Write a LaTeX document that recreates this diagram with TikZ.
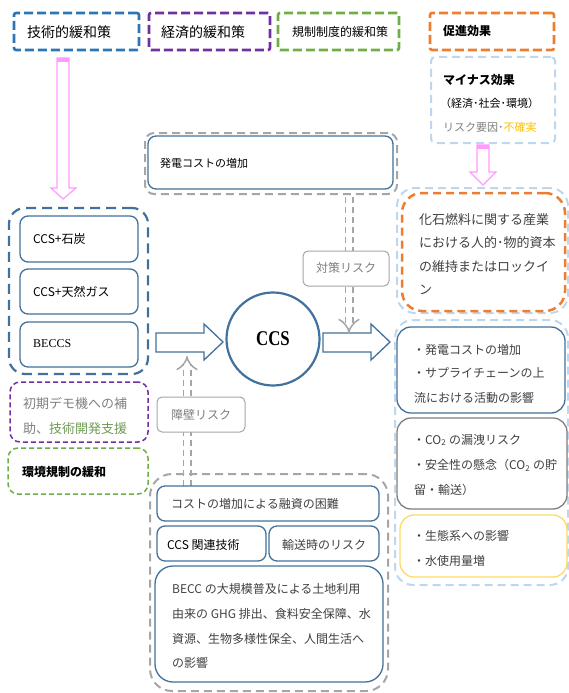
\documentclass[tikz,border=0pt]{standalone}
\usepackage{fontspec}
\newfontfamily\jp{Noto Sans CJK JP}
\newfontfamily\serifb{Liberation Serif}
\usetikzlibrary{fit,arrows.meta}
\definecolor{cblue}{HTML}{2E75B6}
\definecolor{cdblue}{HTML}{41719C}
\definecolor{cpurple}{HTML}{7030A0}
\definecolor{cgreen}{HTML}{70AD47}
\definecolor{corange}{HTML}{ED7D31}
\definecolor{clblue}{HTML}{BDD7EE}
\definecolor{cgray}{HTML}{A6A6A6}
\definecolor{cdgray}{HTML}{7F7F7F}
\definecolor{cyellow}{HTML}{FFD966}
\definecolor{cyeltext}{HTML}{FFC000}
\definecolor{cpink}{HTML}{FF9BFF}
\definecolor{ctext}{HTML}{404040}
\definecolor{cgtext}{HTML}{7F7F7F}
\definecolor{cgreentext}{HTML}{6E9A55}
\tikzset{
  topbox/.style={draw=#1, inner sep=0pt, line width=2.6pt, dash pattern=on 9pt off 4pt, rounded corners=2pt},
  grpbox/.style={draw=#1, inner sep=0pt, line width=2pt, dash pattern=on 8pt off 5pt, rounded corners=16pt},
  thinbox/.style={draw=#1, inner sep=0pt, line width=1.5pt, dash pattern=on 5pt off 3pt, rounded corners=10pt},
  solidbox/.style={draw=#1, fill=white, inner sep=0pt, line width=1.3pt, rounded corners=8pt},
  riskbox/.style={draw=cgray, fill=white, inner sep=0pt, line width=1pt, rounded corners=5pt},
  lbl/.style={anchor=west, inner sep=0pt, text=ctext, font=\jp\fontsize{12}{12}\selectfont},
  blk/.style={anchor=west, inner sep=0pt, text=black, font=\jp\fontsize{12}{12}\selectfont},
  dblarrow/.style={draw=cgray, line width=1.5pt, double=white, double distance=6pt, dash pattern=on 6pt off 4pt, -{Implies}},
  blockarrow/.style={draw=cdblue, fill=white, line width=1.3pt, line join=miter},
  pinkarrow/.style={draw=cpink, fill=white, line width=1.2pt},
}
\begin{document}
\begin{tikzpicture}[x=1pt,y=-1pt]
\useasboundingbox (0,0) rectangle (569,693);

% ---------- top row ----------
\node[topbox=cblue, fit={(14,13) (139,50)}] (tech) {};
\node[topbox=cpurple, fit={(149,13) (270,50)}] (econ) {};
\node[topbox=cgreen, fit={(278,13) (399,50)}] (reg) {};
\node[topbox=corange, fit={(430,13) (554,50)}] (promo) {};
\node[grpbox=clblue, rounded corners=4pt, fit={(431,57) (555,143)}] (minus) {};

\node[blk, font=\jp\fontsize{14}{14}\selectfont] (t1) at (27,32) {技術的緩和策};
\node[blk, font=\jp\fontsize{14}{14}\selectfont] (t2) at (161,32) {経済的緩和策};
\node[blk, font=\jp\fontsize{12}{12}\selectfont] (t3) at (292,32) {規制制度的緩和策};
\node[blk, font=\jp\bfseries\fontsize{12}{12}\selectfont] (t4) at (443,31) {促進効果};
\node[blk, font=\jp\bfseries\fontsize{12}{12}\selectfont] (t5) at (443,80) {マイナス効果};
\node[blk, font=\jp\fontsize{11}{11}\selectfont] (t6) at (440,103) {（経済･社会･環境）};
\node[blk, font=\jp\fontsize{11}{11}\selectfont] (t7) at (443,127) {\textcolor{cgtext}{リスク要因･}\textcolor{cyeltext}{不確実}};

% pink arrows
\draw[pinkarrow] (57,58) -- (69,58) -- (69,188) -- (76,188) -- (63,199) -- (51,188) -- (57,188) -- cycle;
\fill[cpink] (57,58) rectangle (69,62);
\draw[pinkarrow] (477,145) -- (489,145) -- (489,172) -- (496,172) -- (483,185) -- (470,172) -- (477,172) -- cycle;
\fill[cpink] (477,145) rectangle (489,149);

% ---------- left column ----------
\node[grpbox=cdblue, line width=2.2pt, dash pattern=on 10pt off 6pt, fit={(9,208) (148,374)}] (techgrp) {};
\node[solidbox=cdblue, fit={(20,216) (138,262)}] (coal) {};
\node[solidbox=cdblue, fit={(20,269) (138,314)}] (gas) {};
\node[solidbox=cdblue, fit={(20,322) (138,367)}] (beccs) {};
\node[blk] (l1) at (33,239) {CCS+石炭};
\node[blk] (l2) at (33,292) {CCS+天然ガス};
\node[blk, font=\serifb\fontsize{12}{12}\selectfont] (l3) at (33,344) {BECCS};

\node[thinbox=cpurple, fit={(10,382) (148,442)}] (subsidy) {};
\node[lbl, text=cgtext, font=\jp\fontsize{13}{13}\selectfont] (l4) at (23,404) {初期デモ機への補};
\node[lbl, font=\jp\fontsize{13}{13}\selectfont] (l5) at (23,429) {\textcolor{cgtext}{助、}\textcolor{cgreentext}{技術開発支援}};
\node[thinbox=cgreen, fit={(8,448) (148,494)}] (envreg) {};
\node[blk, font=\jp\bfseries\fontsize{12}{12}\selectfont] (l6) at (22,472) {環境規制の緩和};

% ---------- center ----------
\node[grpbox=cgray, rounded corners=9pt, fit={(145,133) (397,194)}] (costgrp) {};
\node[solidbox=cdblue, fit={(148,136) (393,189)}] (cost) {};
\node[blk, font=\jp\fontsize{11}{11}\selectfont] (c1) at (160,163) {発電コストの増加};

\node[circle, draw=cdblue, line width=2.2pt, minimum size=93pt, inner sep=0pt] (ccs) at (273,339)
  {\scalebox{0.8}[1]{\serifb\bfseries\fontsize{21}{21}\selectfont CCS}};

\draw[blockarrow] (156,333) -- (204,333) -- (204,324) -- (223,342) -- (204,360) -- (204,352) -- (156,352) -- cycle;
\draw[blockarrow] (323,333) -- (371,333) -- (371,324) -- (390,342) -- (371,360) -- (371,352) -- (323,352) -- cycle;

\coordinate (dnstart) at (349,197);
\coordinate (dnend) at (349,333);
\draw[dblarrow] (dnstart) -- (dnend);
\coordinate (upstart) at (187,486);
\coordinate (upend) at (187,356);
\draw[dblarrow] (upstart) -- (upend);

\node[riskbox, fit={(303,251) (389,286)}] (taisaku) {};
\node[lbl, anchor=center, text=cgtext] (c2) at (346,268) {対策リスク};
\node[riskbox, fit={(157,397) (245,432)}] (shoheki) {};
\node[lbl, anchor=center, text=cgtext] (c3) at (201,415) {障壁リスク};

% ---------- bottom group ----------
\node[grpbox=cgray, rounded corners=22pt, fit={(150,474) (388,691)}] (botgrp) {};
\node[solidbox=cdblue, fit={(157,486) (379,521)}] (fin) {};
\node[solidbox=cdblue, fit={(157,526) (266,561)}] (ccstech) {};
\node[solidbox=cdblue, fit={(269,526) (379,561)}] (trans) {};
\node[solidbox=cdblue, rounded corners=18pt, fit={(155,566) (383,682)}] (becc) {};
\node[lbl] (b1) at (171,504) {コストの増加による融資の困難};
\node[blk] (b2) at (167,545) {CCS 関連技術};
\node[lbl] (b3) at (282,545) {輸送時のリスク};
\node[lbl] (b4) at (172,589) {BECC の大規模普及による土地利用};
\node[lbl] (b5) at (172,614) {由来の GHG 排出、食料安全保障、水};
\node[lbl] (b6) at (172,639) {資源、生物多様性保全、人間生活へ};
\node[lbl] (b7) at (172,663) {の影響};

% ---------- right column ----------
\node[grpbox=clblue, rounded corners=18pt, fit={(397,188) (568,313)}] (rgrp1) {};
\node[grpbox=corange, line width=2.5pt, rounded corners=20pt, fit={(402,193) (565,311)}] (lockin) {};
\node[lbl, font=\jp\fontsize{13}{13}\selectfont] (r1) at (419,220) {化石燃料に関する産業};
\node[lbl, font=\jp\fontsize{13}{13}\selectfont] (r2) at (419,243) {における人的･物的資本};
\node[lbl, font=\jp\fontsize{13}{13}\selectfont] (r3) at (419,267) {の維持またはロックイ};
\node[lbl, font=\jp\fontsize{13}{13}\selectfont] (r4) at (419,290) {ン};

\node[grpbox=clblue, rounded corners=18pt, fit={(395,320) (568,585)}] (rgrp2) {};
\node[solidbox=cdblue, rounded corners=14pt, fit={(397,327) (565,413)}] (econfx) {};
\node[lbl] (r5) at (413,350) {・発電コストの増加};
\node[lbl] (r6) at (413,373) {・サプライチェーンの上};
\node[lbl] (r7) at (414,398) {流における活動の影響};
\node[solidbox=cdgray, rounded corners=14pt, fit={(397,418) (567,509)}] (safety) {};
\node[lbl] (r8) at (413,440) {・CO\textsubscript{2} の漏洩リスク};
\node[lbl] (r9) at (413,465) {・安全性の懸念（CO\textsubscript{2} の貯};
\node[lbl] (r10) at (414,490) {留・輸送）};
\node[solidbox=cyellow, rounded corners=14pt, fit={(400,515) (567,577)}] (eco) {};
\node[lbl] (r11) at (413,536) {・生態系への影響};
\node[lbl] (r12) at (413,561) {・水使用量増};
\end{tikzpicture}
\end{document}
